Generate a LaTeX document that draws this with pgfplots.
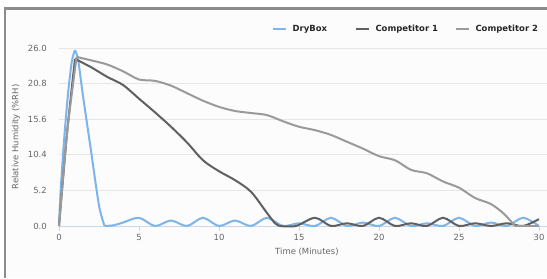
\documentclass[border=0pt]{standalone}
\usepackage{fontspec}
\setmainfont{DejaVu Sans}
\usepackage{pgfplots}
\pgfplotsset{compat=1.18}
\definecolor{dry}{HTML}{7CB5EC}
\definecolor{cone}{HTML}{606060}
\definecolor{ctwo}{HTML}{9A9A9A}
\definecolor{lbl}{HTML}{666666}
\definecolor{gridc}{HTML}{E6E6E6}
\definecolor{axl}{HTML}{CCD6EB}
\definecolor{framec}{HTML}{8C8C8C}
\begin{document}
\begin{tikzpicture}[x=1bp,y=1bp]
\useasboundingbox (0,0) rectangle (547,278);
\fill[white] (0,0) rectangle (547,278);
\fill[black!1] (5,0) rectangle (547,269);
\draw[framec, line width=2.5bp] (5,0) -- (5,269.5) -- (547,269.5);
\begin{axis}[
  at={(59bp,52bp)}, anchor=south west,
  scale only axis, width=488bp, height=178bp,
  xmin=0, xmax=30.5, ymin=0, ymax=26, clip=false,
  axis x line*=bottom, axis y line*=left,
  x axis line style={draw=axl, line width=1bp, -},
  y axis line style={draw=none},
  xtick={0,5,...,30},
  ytick={0,5.2,10.4,15.6,20.8,26},
  xtick align=outside,
  x tick style={draw=axl, line width=0.8bp},
  major tick length=5bp,
  y tick style={draw=none},
  ymajorgrids, grid style={gridc, line width=0.8bp},
  /pgf/number format/assume math mode=true,
  yticklabel style={/pgf/number format/fixed, /pgf/number format/fixed zerofill, /pgf/number format/precision=1, inner sep=0pt, anchor=east, xshift=-12bp},
  xticklabel style={inner sep=0pt, anchor=north, yshift=-3bp},
  ticklabel style={font=\fontsize{8.5}{10}\selectfont, text=lbl},
  xlabel={Time (Minutes)},
  ylabel={Relative Humidity (\%RH)},
  label style={font=\fontsize{8.5}{10}\selectfont, text=lbl},
  xlabel style={at={(rel axis cs:0.508,0)}, anchor=center, yshift=-26bp},
  ylabel style={at={(axis description cs:-0.088,0.5)}, anchor=center},
  legend columns=-1,
  legend style={at={(rel axis cs:0.982,1)}, anchor=east, yshift=19bp, draw=none, fill=none,
    font=\bfseries\fontsize{8.5}{10}\selectfont, text=black!85, inner sep=0pt,
    nodes={inner sep=0pt},
    /tikz/column 1/.style={column sep=5bp},
    /tikz/column 2/.style={column sep=28bp},
    /tikz/column 3/.style={column sep=5bp},
    /tikz/column 4/.style={column sep=17bp},
    /tikz/column 5/.style={column sep=5bp}},
  legend image code/.code={\draw[#1, line width=2.5bp] (0,0) -- (13bp,0);},
]
% DryBox
\addplot[dry, line width=2bp, smooth, tension=0.5, forget plot] coordinates {
(0,0) (0.1,5) (0.3,12) (0.55,19) (0.8,24) (1,25.7)};
\addplot[dry, line width=2bp, smooth, tension=0.5, forget plot] coordinates {
(1,25.7) (1.2,24.2) (1.5,19) (2,11) (2.5,3) (2.85,0)};
\addplot[dry, line width=2bp, smooth, tension=0.5] coordinates {
(2.85,0) (3.4,0.1) (4,0.5) (5,1.2) (6,0) (7,0.8) (8,0) (9,1.2) (10,0)
(11,0.8) (12,0) (13,1.2) (14,0) (15,0.4) (16,0) (17,1.2) (18,0) (19,0.5) (20,0)
(21,1.2) (22,0) (23,0.4) (24,0) (25,1.2) (26,0) (27,0.5) (28,0) (29,1.2) (30,0)};
\addlegendentry{DryBox}
% Competitor 1
\addplot[cone, line width=2bp, smooth, tension=0.5, forget plot] coordinates {
(0,0) (0.5,13.5) (1,24.4)};
\addplot[cone, line width=2bp, smooth, tension=0.5, forget plot] coordinates {
(1,24.4) (2,23.2) (3,21.8) (4,20.6) (5,18.6) (6,16.6) (7,14.5) (8,12.2)
(9,9.6) (10,8.0) (11,6.7) (12,5.0) (13,1.9) (13.5,0.4) (13.8,0)};
\addplot[cone, line width=2bp, smooth, tension=0.5] coordinates {
(13.8,0) (14.8,0) (16,1.2) (17,0) (18,0.4)
(19,0) (20,1.2) (21,0) (22,0.4) (23,0) (24,1.2) (25,0) (26,0.4) (27,0) (28,0.4)
(29,0) (30,1.0)};
\addlegendentry{Competitor 1}
% Competitor 2
\addplot[ctwo, line width=2bp, smooth, tension=0.5, forget plot] coordinates {
(0,0) (0.5,13.5) (1.1,24.7)};
\addplot[ctwo, line width=2bp, smooth, tension=0.5, forget plot] coordinates {
(1.1,24.7) (2,24.2) (3,23.6) (4,22.6) (5,21.4) (6,21.2) (7,20.5) (8,19.4)
(9,18.3) (10,17.4) (11,16.8) (12,16.5) (13,16.2) (14,15.3) (15,14.5) (16,14.0)
(17,13.3) (18,12.3) (19,11.3) (20,10.2) (21,9.6) (22,8.2) (23,7.7) (24,6.5)
(25,5.6) (26,4.1) (27,3.2) (27.8,1.8) (28.5,0)};
\addplot[ctwo, line width=2bp, smooth, tension=0.5] coordinates {
(28.5,0) (29.3,0) (30,0)};
\addlegendentry{Competitor 2}
\end{axis}
\end{tikzpicture}
\end{document}
